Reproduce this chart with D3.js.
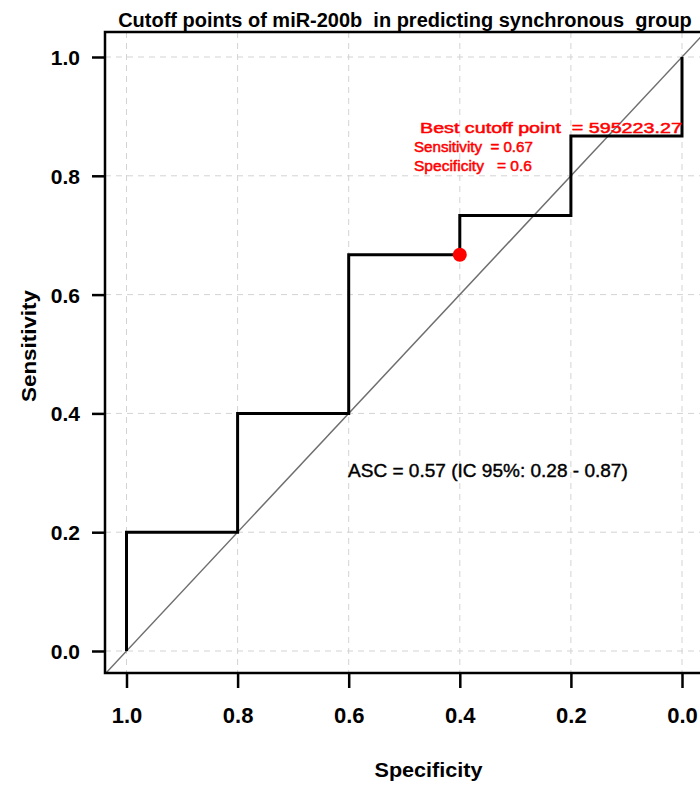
<!DOCTYPE html>
<html>
<head>
<meta charset="utf-8">
<script src="https://cdn.jsdelivr.net/npm/d3@7"></script>
<style>
  body { margin: 0; background: #fff; }
  svg { display: block; font-family: "Liberation Sans", Arial, sans-serif; }
</style>
</head>
<body>
<svg id="chart" width="700" height="786"></svg>
<script>
// ---- data ----
const specificity = [1.0, 1.0, 0.8, 0.8, 0.6, 0.6, 0.4, 0.4, 0.2, 0.2, 0.0, 0.0];
const sensitivity = [0.0, 0.2, 0.2, 0.4, 0.4, 0.667, 0.667, 0.733, 0.733, 0.867, 0.867, 1.0];
const xTicks = [1.0, 0.8, 0.6, 0.4, 0.2, 0.0];
const yTicks = [0.0, 0.2, 0.4, 0.6, 0.8, 1.0];
const bestPoint = [0.4, 0.667];
const bestLabels = ["Best cutoff point  = 595223.27", "Sensitivity  = 0.67", "Specificity   = 0.6"];
const aucLabel = "ASC = 0.57 (IC 95%: 0.28 - 0.87)";
const titleText = "Cutoff points of miR-200b  in predicting synchronous  group";

// ---- layout ----
const svg = d3.select("#chart");
const box = { left: 105, top: 32, right: 704, bottom: 673 };
const x = d3.scaleLinear().domain([1.0, 0.0]).range([126.5, 682]);
const y = d3.scaleLinear().domain([0, 1]).range([651, 57]);

svg.append("defs").append("clipPath").attr("id", "clip")
  .append("rect").attr("x", box.left).attr("y", box.top)
  .attr("width", box.right - box.left).attr("height", box.bottom - box.top);

// grid
const grid = svg.append("g");
grid.selectAll(".gx").data(xTicks).enter().append("line")
  .attr("x1", d => x(d)).attr("x2", d => x(d))
  .attr("y1", box.top).attr("y2", box.bottom)
  .attr("stroke", "#d3d3d3").attr("stroke-width", 1).attr("stroke-dasharray", "6,5");
grid.selectAll(".gy").data(yTicks).enter().append("line")
  .attr("y1", d => y(d)).attr("y2", d => y(d))
  .attr("x1", box.left).attr("x2", box.right)
  .attr("stroke", "#d3d3d3").attr("stroke-width", 1).attr("stroke-dasharray", "6,5");

// diagonal
const plot = svg.append("g").attr("clip-path", "url(#clip)");
plot.append("line")
  .attr("x1", x(1.1)).attr("y1", y(-0.1))
  .attr("x2", x(-0.1)).attr("y2", y(1.1))
  .attr("stroke", "#6e6e6e").attr("stroke-width", 1.5);

// ROC step curve
const pts = specificity.map((s, i) => [s, sensitivity[i]]);
plot.append("path")
  .attr("d", d3.line().x(d => x(d[0])).y(d => y(d[1]))(pts))
  .attr("fill", "none").attr("stroke", "#000").attr("stroke-width", 3)
  .attr("stroke-linejoin", "miter");

// best point
svg.append("circle")
  .attr("cx", x(bestPoint[0])).attr("cy", y(bestPoint[1])).attr("r", 7)
  .attr("fill", "#ff0000");

// box
svg.append("rect")
  .attr("x", box.left).attr("y", box.top)
  .attr("width", box.right - box.left).attr("height", box.bottom - box.top)
  .attr("fill", "none").attr("stroke", "#000").attr("stroke-width", 2.5);

// axes
const xAxis = d3.axisBottom(x).tickValues(xTicks).tickFormat(d3.format(".1f"))
  .tickSize(15);
const gx = svg.append("g").attr("transform", `translate(0,${box.bottom})`).call(xAxis);
gx.select(".domain").remove();
gx.selectAll(".tick line").attr("stroke", "#000").attr("stroke-width", 2.5);
gx.selectAll(".tick text").attr("y", 50).attr("dy", 0)
  .style("font-size", "22px").style("font-weight", "bold")
  .attr("fill", "#000").style("font-family", "Liberation Sans, Arial, sans-serif");

const yAxis = d3.axisLeft(y).tickValues(yTicks).tickFormat(d3.format(".1f"))
  .tickSize(13).tickPadding(12);
const gy = svg.append("g").attr("transform", `translate(${box.left},0)`).call(yAxis);
gy.select(".domain").remove();
gy.selectAll(".tick line").attr("stroke", "#000").attr("stroke-width", 2.5);
gy.selectAll(".tick text").attr("dy", "0.36em")
  .style("font-size", "21px").style("font-weight", "bold")
  .attr("fill", "#000").style("font-family", "Liberation Sans, Arial, sans-serif");

// helper: horizontally scale a text to a target width (condensed look)
function fitText(sel, cx, baseY, width, anchor) {
  const w = sel.node().getComputedTextLength();
  const s = width / w;
  sel.attr("x", 0).attr("y", 0).attr("text-anchor", anchor)
    .attr("transform", `translate(${cx},${baseY}) scale(${s},1)`);
}

// title
const title = svg.append("text")
  .style("font-size", "21px").attr("font-weight", "bold").attr("fill", "#000")
  .style("white-space", "pre")
  .text(titleText);
fitText(title, 405, 27, 574, "middle");

// axis labels
svg.append("text").attr("x", 428.5).attr("y", 777).attr("text-anchor", "middle")
  .style("font-size", "21px").attr("font-weight", "bold").attr("fill", "#000")
  .attr("textLength", 108).attr("lengthAdjust", "spacingAndGlyphs")
  .text("Specificity");
svg.append("text").attr("transform", "translate(36,346) rotate(-90)")
  .attr("text-anchor", "middle")
  .style("font-size", "21px").attr("font-weight", "bold").attr("fill", "#000")
  .attr("textLength", 112).attr("lengthAdjust", "spacingAndGlyphs")
  .text("Sensitivity");

// best cutoff annotation
const ann = [[420, 133, 262], [414, 152, 119], [414, 171, 118]];
bestLabels.forEach((t, i) => {
  const tx = svg.append("text")
    .style("font-size", "15px").attr("fill", "#ff0000")
    .attr("stroke", "#ff0000").attr("stroke-width", 0.5)
    .style("white-space", "pre")
    .text(t);
  fitText(tx, ann[i][0], ann[i][1], ann[i][2], "start");
});

// AUC text
const auc = svg.append("text")
  .style("font-size", "18px").attr("fill", "#000")
  .attr("stroke", "#000").attr("stroke-width", 0.4)
  .text(aucLabel);
fitText(auc, 348, 477, 280, "start");
</script>
</body>
</html>
